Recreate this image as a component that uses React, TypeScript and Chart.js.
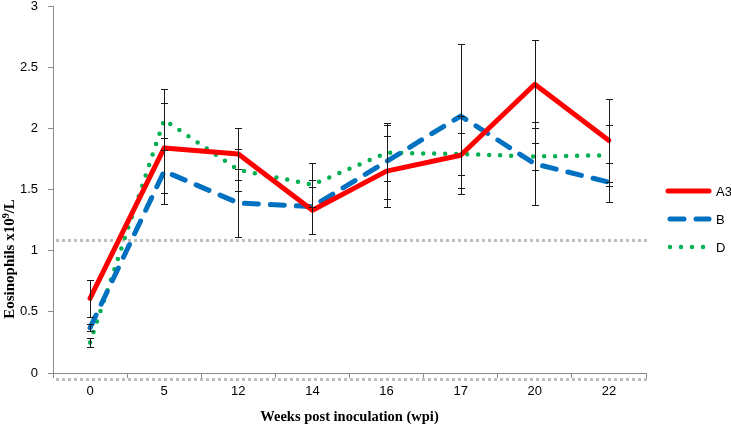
import React, { useEffect, useRef } from "react";
import { Chart, registerables } from "chart.js";

Chart.register(...registerables);

const categories = ["0", "5", "12", "14", "16", "17", "20", "22"];
const seriesNames = ["A3", "B", "D"];
const a3Values = [0.61, 1.84, 1.79, 1.33, 1.65, 1.78, 2.36, 1.9];
const bValues = [0.37, 1.65, 1.39, 1.36, 1.73, 2.1, 1.71, 1.56];
const dValues = [0.25, 2.07, 1.66, 1.54, 1.8, 1.79, 1.77, 1.78];
const a3Errors = [0.15, 0.37, 0.21, 0.19, 0.29, 0.32, 0.36, 0.34];
const bErrors = [0.03, 0.27, 0.28, 0.22, 0.31, 0.59, 0.34, 0.16];
const dErrors = [0.04, 0.25, 0.17, 0.18, 0.23, 0.17, 0.11, 0.25];
const referenceLines = [1.09, -0.05];
const yTicks = [0, 0.5, 1, 1.5, 2, 2.5, 3];

const RED = "#FF0000";
const BLUE = "#0070C0";
const GREEN = "#00B050";
const AXIS = "#8c8c8c";
const TICK_FONT = { family: "'Liberation Sans', Arial, sans-serif", size: 13 };

const errorSets = [a3Errors, bErrors, dErrors];

const refLinePlugin = {
  id: "refLines",
  beforeDatasetsDraw(chart: any) {
    const { ctx, chartArea, scales } = chart;
    ctx.save();
    ctx.strokeStyle = "#BFBFBF";
    ctx.lineWidth = 3;
    ctx.setLineDash([3, 3]);
    referenceLines.forEach((v) => {
      const y = Math.round(scales.y.getPixelForValue(v)) + 0.5;
      ctx.beginPath();
      ctx.moveTo(chartArea.left + 3, y);
      ctx.lineTo(chartArea.right + 4, y);
      ctx.stroke();
    });
    ctx.restore();
  },
};

const errorBarPlugin = {
  id: "errorBars",
  afterDatasetsDraw(chart: any) {
    const { ctx, scales } = chart;
    ctx.save();
    ctx.strokeStyle = "#1a1a1a";
    ctx.lineWidth = 1;
    ctx.setLineDash([]);
    chart.data.datasets.forEach((ds: any, di: number) => {
      const errs = errorSets[di];
      ds.data.forEach((v: number, i: number) => {
        const x = Math.round(scales.x.getPixelForValue(i)) + 0.5;
        const yT = Math.round(scales.y.getPixelForValue(v + errs[i])) + 0.5;
        const yB = Math.round(scales.y.getPixelForValue(v - errs[i])) + 0.5;
        ctx.beginPath();
        ctx.moveTo(x, yT);
        ctx.lineTo(x, yB);
        ctx.moveTo(x - 3.5, yT);
        ctx.lineTo(x + 3.5, yT);
        ctx.moveTo(x - 3.5, yB);
        ctx.lineTo(x + 3.5, yB);
        ctx.stroke();
      });
    });
    ctx.restore();
  },
};

const decorPlugin = {
  id: "decor",
  afterDraw(chart: any) {
    const { ctx } = chart;
    ctx.save();
    // Y axis title with superscript
    ctx.translate(10, 259);
    ctx.rotate(-Math.PI / 2);
    ctx.fillStyle = "#000";
    ctx.textBaseline = "middle";
    const main = "bold 15px 'Liberation Serif', 'Times New Roman', serif";
    const sup = "bold 10px 'Liberation Serif', 'Times New Roman', serif";
    const p1 = "Eosinophils x10";
    const p2 = "9";
    const p3 = "/L";
    ctx.font = main;
    const w1 = ctx.measureText(p1).width;
    const w3 = ctx.measureText(p3).width;
    ctx.font = sup;
    const w2 = ctx.measureText(p2).width;
    const total = w1 + w2 + w3;
    let x = -total / 2;
    ctx.textAlign = "left";
    ctx.font = main;
    ctx.fillText(p1, x, 0);
    x += w1;
    ctx.font = sup;
    ctx.fillText(p2, x, -4);
    x += w2;
    ctx.font = main;
    ctx.fillText(p3, x, 0);
    ctx.restore();

    // Legend
    ctx.save();
    const lx0 = 668;
    const lx1 = 709;
    const ys = [191, 219, 247];
    chart.data.datasets.forEach((ds: any, i: number) => {
      const y = ys[i];
      ctx.strokeStyle = ds.borderColor;
      ctx.lineWidth = ds.borderWidth;
      ctx.lineCap = "round";
      ctx.setLineDash(ds.borderDash || []);
      ctx.beginPath();
      ctx.moveTo(lx0 + (i === 0 ? 0 : 2), y);
      ctx.lineTo(lx1, y);
      ctx.stroke();
      ctx.setLineDash([]);
      ctx.fillStyle = "#000";
      ctx.font = "13px 'Liberation Sans', Arial, sans-serif";
      ctx.textAlign = "left";
      ctx.textBaseline = "middle";
      ctx.fillText(seriesNames[i], 716, y + 1);
    });
    ctx.restore();
  },
};

export default function App() {
  const ref = useRef<HTMLCanvasElement | null>(null);
  useEffect(() => {
    if (!ref.current) return;
    const chart = new Chart(ref.current, {
      type: "line",
      data: {
        labels: categories,
        datasets: [
          {
            label: seriesNames[0],
            data: a3Values,
            borderColor: RED,
            backgroundColor: RED,
            borderWidth: 5,
            pointRadius: 0,
            tension: 0,
            borderCapStyle: "round",
            borderJoinStyle: "round",
          },
          {
            label: seriesNames[1],
            data: bValues,
            borderColor: BLUE,
            backgroundColor: BLUE,
            borderWidth: 5,
            borderDash: [14, 12],
            pointRadius: 0,
            tension: 0,
            borderCapStyle: "round",
            borderJoinStyle: "round",
          },
          {
            label: seriesNames[2],
            data: dValues,
            borderColor: GREEN,
            backgroundColor: GREEN,
            borderWidth: 4.5,
            borderDash: [0, 11],
            pointRadius: 0,
            tension: 0,
            borderCapStyle: "round",
            borderJoinStyle: "round",
          },
        ],
      },
      options: {
        animation: false,
        responsive: false,
        devicePixelRatio: 1,
        layout: { padding: { left: 0, right: 85, top: 0, bottom: 5 } },
        plugins: {
          legend: { display: false },
          tooltip: { enabled: false },
        },
        scales: {
          x: {
            type: "category",
            offset: true,
            grid: {
              display: true,
              drawOnChartArea: false,
              drawTicks: true,
              tickLength: 5,
              offset: true,
              color: AXIS,
            },
            border: { color: AXIS, width: 1 },
            ticks: { padding: 6, font: TICK_FONT, color: "#000" },
            title: {
              display: true,
              text: "Weeks post inoculation (wpi)",
              color: "#000",
              font: { family: "'Liberation Serif', 'Times New Roman', serif", size: 14.5, weight: "bold" },
              padding: { top: 3, bottom: 0 },
            },
          },
          y: {
            min: 0,
            max: 3,
            afterBuildTicks: (s: any) => {
              s.ticks = yTicks.map((v) => ({ value: v }));
            },
            afterFit: (s: any) => {
              s.width = 53;
              s.paddingTop = 6;
            },
            grid: {
              display: true,
              drawOnChartArea: false,
              drawTicks: true,
              tickLength: 5,
              color: AXIS,
            },
            border: { color: AXIS, width: 1 },
            ticks: {
              padding: 10,
              font: TICK_FONT,
              color: "#000",
              callback: (v: any) => String(v),
            },
          },
        },
      },
      plugins: [refLinePlugin, errorBarPlugin, decorPlugin],
    } as any);
    return () => chart.destroy();
  }, []);
  return (
    <div style={{ position: "absolute", left: 0, top: 0, width: 731, height: 431, background: "#fff" }}>
      <canvas ref={ref} width={731} height={431} style={{ display: "block" }} />
    </div>
  );
}
